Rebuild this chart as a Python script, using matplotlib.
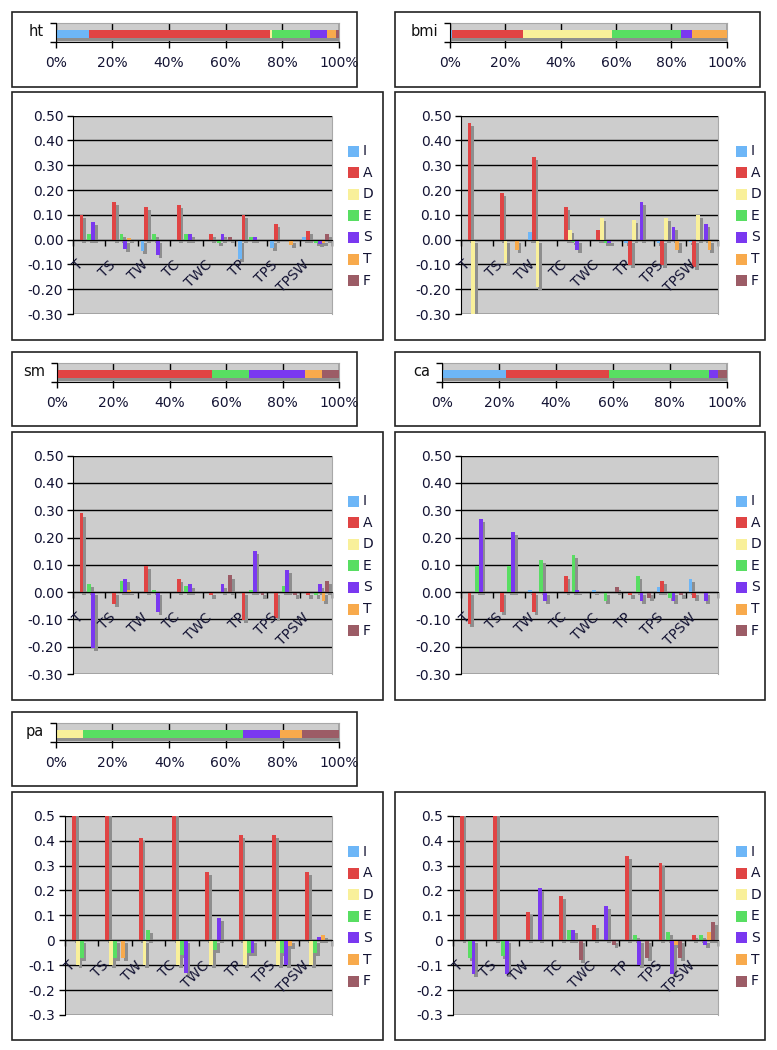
import matplotlib
matplotlib.use('Agg')
import matplotlib.pyplot as plt
from matplotlib.patches import Rectangle
import numpy as np

plt.rcParams['font.family'] = ['DejaVu Sans']

W, H = 777, 1050
fig = plt.figure(figsize=(W / 100, H / 100), dpi=100)

# ---------------- data ----------------
series = ['I', 'A', 'D', 'E', 'S', 'T', 'F']
series_colors = ['#6DB6F7', '#E04444', '#F9F09A', '#58DE62', '#7A38F0', '#F8AA4C', '#9C5C66']
categories = ['T', 'TS', 'TW', 'TC', 'TWC', 'TP', 'TPS', 'TPSW']
pct_ticks = [0, 20, 40, 60, 80, 100]

# stacked shares (%) in series order I, A, D, E, S, T, F
ht_share = [11.7, 63.9, 0.9, 13.4, 5.9, 3.0, 1.2]
bmi_share = [0.6, 25.9, 31.9, 25.1, 4.1, 12.4, 0.0]
sm_share = [0.0, 55.1, 0.0, 12.9, 19.9, 5.9, 6.2]
ca_share = [22.5, 36.2, 0.0, 35.2, 3.2, 0.0, 2.9]
pa_share = [0.0, 0.0, 9.8, 56.4, 12.9, 7.6, 13.3]

# grouped values, one row per series (I, A, D, E, S, T, F), one column per category
ht_vals = [
    [0, 0, -0.044, 0, 0, -0.077, -0.034, 0.010],
    [0.100, 0.152, 0.130, 0.138, 0.023, 0.100, 0.064, 0.034],
    [0, 0, 0, 0, 0, 0, 0, 0],
    [0.023, 0.023, 0.023, 0.023, -0.013, 0.010, 0, -0.013],
    [0.072, -0.036, -0.063, 0.023, 0.023, 0.010, 0, -0.016],
    [0, 0.007, 0, 0, 0, 0, -0.023, -0.013],
    [0, 0, 0, 0, 0.010, 0, 0, 0.023],
]
bmi_vals = [
    [0, 0, 0.031, 0, 0, -0.013, -0.013, -0.010],
    [0.472, 0.188, 0.333, 0.130, 0.040, -0.103, -0.103, -0.110],
    [-0.300, -0.094, -0.192, 0.040, 0.087, 0.080, 0.087, 0.100],
    [0, 0, 0, -0.010, -0.013, 0, 0, 0],
    [0, 0, 0, -0.043, -0.013, 0.152, 0.050, 0.063],
    [0, -0.043, 0, 0, 0, 0, -0.043, -0.043],
    [0, 0, 0, 0, 0, 0, 0, 0],
]
sm_vals = [
    [0, 0, 0, 0, 0, 0, 0, 0],
    [0.289, -0.044, 0.096, 0.049, -0.012, -0.101, -0.095, -0.012],
    [0, 0, 0, 0, 0, 0, 0, 0],
    [0.029, 0.041, 0.009, 0.021, 0, 0.009, 0.021, -0.012],
    [-0.205, 0.049, -0.073, 0.028, 0.028, 0.151, 0.082, 0.028],
    [0, 0.007, 0, 0, 0, 0, 0, -0.032],
    [0, 0, 0, 0, 0.061, -0.012, -0.012, 0.041],
]
ca_vals = [
    [0, 0, 0.007, 0, 0.007, 0, 0.020, 0.049],
    [-0.115, -0.073, -0.073, 0.060, 0, -0.012, 0.040, -0.022],
    [0, 0, 0, 0, 0, 0, 0, 0],
    [0.096, 0.096, 0.117, 0.137, -0.032, 0.060, -0.022, 0],
    [0.268, 0.220, -0.032, 0.007, 0, -0.032, -0.032, -0.032],
    [0, 0, 0, 0, 0, 0, 0, 0],
    [0, 0, 0, 0, 0.020, -0.022, -0.012, 0],
]
pa_vals = [
    [0, 0, 0, 0, 0, 0, 0, 0],
    [0.55, 0.55, 0.412, 0.55, 0.273, 0.421, 0.421, 0.273],
    [-0.10, -0.10, -0.10, -0.10, -0.10, -0.10, -0.10, -0.10],
    [-0.070, -0.070, 0.040, -0.060, -0.040, -0.053, -0.053, -0.053],
    [0, 0, 0, -0.130, 0.088, -0.053, -0.100, 0.013],
    [0, -0.070, 0, 0, 0, 0, -0.024, 0.023],
    [0, 0, 0, 0, 0, 0, 0, 0],
]
last_vals = [
    [0, 0, 0, 0, 0, 0, 0, 0],
    [0.55, 0.55, 0.112, 0.179, 0.063, 0.340, 0.309, 0.023],
    [0, 0, 0, 0, 0, 0, 0, 0],
    [-0.072, -0.062, 0, 0.040, 0, 0.023, 0.032, 0.023],
    [-0.136, -0.136, 0.210, 0.040, 0.139, -0.100, -0.136, -0.021],
    [0, 0, 0, 0, 0, 0, -0.021, 0.032],
    [0, 0, 0, -0.080, -0.021, -0.072, -0.072, 0.072],
]
yticks2 = [-0.3, -0.2, -0.1, 0.0, 0.1, 0.2, 0.3, 0.4, 0.5]

# ---------------- style ----------------
BG = '#CDCDCD'
SHADOW = '#8E8E8E'
TXT = '#141434'
FS = 10


def rect(l, t, r, b):
    return [l / W, 1 - b / H, (r - l) / W, (b - t) / H]


def frame(l, t, r, b):
    fig.patches.append(Rectangle((l / W, 1 - b / H), (r - l) / W, (b - t) / H,
                                 transform=fig.transFigure, fill=False,
                                 ec='#222222', lw=1.2, zorder=0))


def stack_panel(l, t, r, b, shares, name):
    ax = fig.add_axes(rect(l, t, r, b))
    ax.set_facecolor(BG)
    ax.set_xlim(0, 100)
    ax.set_ylim(0, 1)
    sh = np.array(shares, dtype=float)
    lefts = np.concatenate([[0], np.cumsum(sh)[:-1]])
    ax.barh(0.4435 - 0.16, sh, left=lefts + 0.35, height=0.41, color=SHADOW, lw=0, zorder=2)
    ax.barh(0.4435, sh, left=lefts, height=0.41, color=series_colors, lw=0, zorder=3)
    ax.set_xticks(pct_ticks)
    ax.set_xticklabels([f'{p}%' for p in pct_ticks], fontsize=FS, color=TXT)
    ax.xaxis.grid(True, color='black', lw=1)
    ax.set_axisbelow(True)
    ax.set_yticks([0, 1])
    ax.set_yticklabels([])
    ax.tick_params(axis='x', direction='out', length=4, width=1, color='black', pad=6)
    ax.tick_params(axis='y', direction='out', length=4, width=1, color='black')
    for s in ['left', 'bottom']:
        ax.spines[s].set_color('black')
        ax.spines[s].set_zorder(4)
    for s in ['top', 'right']:
        ax.spines[s].set_color('#A8A8A8')
    ax.text(-0.042, 0.55, name, transform=ax.transAxes, ha='right', va='center',
            fontsize=FS + 0.5, color='#111111')


def bar_panel(l, t, r, b, vals, decimals, leg_x):
    ax = fig.add_axes(rect(l, t, r, b))
    ax.set_facecolor(BG)
    n = len(categories)
    k = len(series)
    w = 1.0 / (k + 1.5)
    g = np.arange(n)
    for i in range(k):
        xs = g + 0.75 * w + (i + 0.5) * w
        v = np.array(vals[i], dtype=float)
        ax.bar(xs + 0.7 * w, v, bottom=-0.012, width=w, color=SHADOW, lw=0, zorder=2)
    for i in range(k):
        xs = g + 0.75 * w + (i + 0.5) * w
        v = np.array(vals[i], dtype=float)
        ax.bar(xs, v, width=w, color=series_colors[i], lw=0, zorder=3)
    ax.set_xlim(0, n)
    ax.set_ylim(-0.3, 0.5)
    ax.set_yticks(yticks2)
    if decimals == 2:
        labs = [f'{y:.2f}' for y in yticks2]
    else:
        labs = ['0' if abs(y) < 1e-9 else f'{y:.1f}' for y in yticks2]
    ax.set_yticklabels(labs, fontsize=FS, color=TXT)
    ax.yaxis.grid(True, color='black', lw=1)
    ax.set_axisbelow(True)
    ax.set_xticks(np.arange(n + 1))
    ax.set_xticklabels([])
    ax.spines['bottom'].set_position(('data', 0))
    ax.spines['bottom'].set_color('black')
    ax.spines['bottom'].set_zorder(4)
    ax.spines['left'].set_color('black')
    ax.spines['top'].set_visible(False)
    ax.spines['right'].set_color('#A8A8A8')
    ax.tick_params(axis='x', direction='out', length=4, width=1, color='black')
    ax.tick_params(axis='y', direction='out', length=4, width=1, color='black', pad=3)
    for j, c in enumerate(categories):
        ax.annotate(c, xy=(j + 0.5, 0), xycoords='data', xytext=(-2.5, -13),
                    textcoords='offset points', rotation=45, ha='right', va='top',
                    fontsize=FS, color=TXT, zorder=5)
    # legend
    cy = (t + b) / 2 + 1
    sp = 21.6
    for i, (s, c) in enumerate(zip(series, series_colors)):
        yc = cy + (i - 3) * sp
        fig.patches.append(Rectangle((leg_x / W, 1 - (yc + 5.5) / H), 11 / W, 11 / H,
                                     transform=fig.transFigure, fc=c, ec='none'))
        fig.text((leg_x + 15) / W, 1 - yc / H, s, ha='left', va='center',
                 fontsize=FS, color=TXT)


# frames
frame(12, 12, 357, 87)
frame(12, 92, 383, 340)
frame(12, 352, 357, 426)
frame(12, 432, 383, 700)
frame(12, 712, 357, 786)
frame(12, 792, 383, 1040)
frame(395, 12, 760, 87)
frame(395, 92, 765, 340)
frame(395, 352, 760, 426)
frame(395, 432, 765, 700)
frame(395, 792, 765, 1040)

stack_panel(55.7, 23.3, 339, 42.3, ht_share, 'ht')
stack_panel(450, 23.3, 726.7, 42.3, bmi_share, 'bmi')
stack_panel(56.7, 363.3, 339.3, 382.3, sm_share, 'sm')
stack_panel(442.3, 363.3, 726.7, 382.3, ca_share, 'ca')
stack_panel(55.7, 723.3, 339.3, 742.3, pa_share, 'pa')

bar_panel(73, 115.7, 332, 314, ht_vals, 2, 348)
bar_panel(461, 115.7, 718, 314, bmi_vals, 2, 736)
bar_panel(73, 455.7, 332, 674, sm_vals, 2, 348)
bar_panel(461, 455.7, 718, 674, ca_vals, 2, 736)
bar_panel(65, 815.7, 332, 1015, pa_vals, 1, 348)
bar_panel(453, 815.7, 718, 1015, last_vals, 1, 736)

fig.savefig('out.png', dpi=100, facecolor='white')
